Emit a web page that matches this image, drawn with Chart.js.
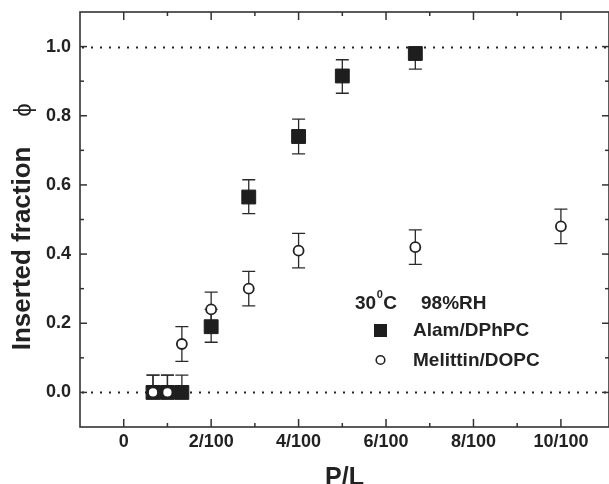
<!DOCTYPE html>
<html><head><meta charset="utf-8">
<script src="https://cdn.jsdelivr.net/npm/chart.js@4.4.0/dist/chart.umd.min.js"></script>
<style>html,body{margin:0;padding:0;background:#fff;overflow:hidden}</style>
</head><body>
<canvas id="c" width="609" height="484"></canvas>
<script>
// ---- data ----
const alamX = [0.0067, 0.0100, 0.0133, 0.0200, 0.0286, 0.0400, 0.0500, 0.0667];
const alamY = [0.00, 0.00, 0.00, 0.19, 0.565, 0.74, 0.915, 0.98];
const alamErrUp = [0.05, 0.05, 0.05, 0.05, 0.05, 0.05, 0.047, 0.0];
const alamErrDown = [0.0, 0.0, 0.0, 0.045, 0.048, 0.05, 0.05, 0.045];

const melX = [0.0067, 0.0100, 0.0133, 0.0200, 0.0286, 0.0400, 0.0667, 0.1000];
const melY = [0.00, 0.00, 0.14, 0.24, 0.30, 0.41, 0.42, 0.48];
const melErrUp = [0.05, 0.05, 0.05, 0.05, 0.05, 0.05, 0.05, 0.05];
const melErrDown = [0.0, 0.0, 0.05, 0.05, 0.05, 0.05, 0.05, 0.05];

const xTickValues = [0, 0.02, 0.04, 0.06, 0.08, 0.10];
const xTickLabels = ['0', '2/100', '4/100', '6/100', '8/100', '10/100'];
const xMinorValues = [0.01, 0.03, 0.05, 0.07, 0.09];
const yTickValues = [0, 0.2, 0.4, 0.6, 0.8, 1.0];
const yTickLabels = ['0.0', '0.2', '0.4', '0.6', '0.8', '1.0'];
const yMinorValues = [0.1, 0.3, 0.5, 0.7, 0.9];
const refLines = [0, 1.0];

const seriesNames = ['Alam/DPhPC', 'Melittin/DOPC'];
const legendHeader = ['30', '0', 'C', '98%RH'];
const yTitleText = 'Inserted fraction';
const yTitleSymbol = '\u03D5';

const INK = '#222222';
const FONT = "'Liberation Sans', Arial, Helvetica, sans-serif";

const refLinePlugin = {
  id: 'refLines',
  beforeDatasetsDraw(chart) {
    const {ctx, chartArea: a, scales: {y}} = chart;
    ctx.save();
    ctx.strokeStyle = '#222';
    ctx.lineWidth = 2;
    ctx.setLineDash([2, 7]);
    refLines.forEach(v => {
      const py = Math.round(y.getPixelForValue(v)) + 0.5;
      ctx.beginPath(); ctx.moveTo(a.left + 2, py); ctx.lineTo(a.right, py); ctx.stroke();
    });
    ctx.restore();
  }
};

const errorBarPlugin = {
  id: 'errorBars',
  beforeDatasetsDraw(chart) {
    const {ctx, scales: {x, y}} = chart;
    ctx.save();
    ctx.strokeStyle = '#2a2a2a';
    ctx.lineWidth = 1.3;
    const series = [[alamX, alamY, alamErrUp, alamErrDown], [melX, melY, melErrUp, melErrDown]];
    series.forEach(([xs, ys, up, dn]) => {
      xs.forEach((xv, i) => {
        const px = x.getPixelForValue(xv);
        const yT = y.getPixelForValue(ys[i] + up[i]);
        const yB = y.getPixelForValue(ys[i] - dn[i]);
        ctx.beginPath();
        ctx.moveTo(px, yT); ctx.lineTo(px, yB);
        if (up[i] > 0) { ctx.moveTo(px - 6.5, yT); ctx.lineTo(px + 6.5, yT); }
        if (dn[i] > 0) { ctx.moveTo(px - 6.5, yB); ctx.lineTo(px + 6.5, yB); }
        ctx.stroke();
      });
    });
    ctx.restore();
  }
};

const framePlugin = {
  id: 'frame',
  afterDraw(chart) {
    const {ctx, chartArea: a, scales: {x, y}} = chart;
    ctx.save();
    ctx.strokeStyle = '#333';
    ctx.lineWidth = 1.6;
    ctx.strokeRect(a.left, a.top, a.right - a.left, a.bottom - a.top);
    ctx.lineWidth = 1.5;
    const tick = (x1, y1, x2, y2) => { ctx.beginPath(); ctx.moveTo(x1, y1); ctx.lineTo(x2, y2); ctx.stroke(); };
    xTickValues.forEach(v => { const p = x.getPixelForValue(v); tick(p, a.bottom, p, a.bottom - 8); tick(p, a.top, p, a.top + 8); });
    xMinorValues.forEach(v => { const p = x.getPixelForValue(v); tick(p, a.bottom, p, a.bottom - 4); tick(p, a.top, p, a.top + 4); });
    yTickValues.forEach(v => { const p = y.getPixelForValue(v); tick(a.left, p, a.left + 7, p); tick(a.right, p, a.right - 7, p); });
    yMinorValues.forEach(v => { const p = y.getPixelForValue(v); tick(a.left, p, a.left + 4, p); tick(a.right, p, a.right - 4, p); });
    ctx.restore();

    // phi symbol of the y title (regular weight)
    ctx.save();
    ctx.translate(24, 110);
    ctx.rotate(-Math.PI / 2);
    ctx.fillStyle = INK;
    ctx.font = '24px ' + FONT;
    ctx.textAlign = 'center';
    ctx.textBaseline = 'middle';
    ctx.fillText(yTitleSymbol, 0, 0);
    ctx.restore();

    // legend inside plot
    ctx.save();
    ctx.fillStyle = INK;
    ctx.textBaseline = 'alphabetic';
    ctx.font = 'bold 19px ' + FONT;
    let tx = 355, by = 309;
    ctx.fillText(legendHeader[0], tx, by);
    tx += ctx.measureText(legendHeader[0]).width + 0.5;
    ctx.font = 'bold 11px ' + FONT;
    ctx.fillText(legendHeader[1], tx, by - 11);
    tx += ctx.measureText(legendHeader[1]).width + 0.5;
    ctx.font = 'bold 19px ' + FONT;
    ctx.fillText(legendHeader[2], tx, by);
    ctx.fillText(legendHeader[3], 421, by);

    ctx.textBaseline = 'middle';
    ctx.fillStyle = '#1e1e1e';
    ctx.fillRect(374, 324, 13, 13);
    ctx.beginPath();
    ctx.arc(380.5, 360, 4.3, 0, Math.PI * 2);
    ctx.fillStyle = '#fff'; ctx.fill();
    ctx.lineWidth = 1.6; ctx.strokeStyle = INK; ctx.stroke();
    ctx.fillStyle = INK;
    ctx.font = 'bold 19px ' + FONT;
    ctx.fillText(seriesNames[0], 413, 331);
    ctx.fillText(seriesNames[1], 413, 361);
    ctx.restore();
  }
};

new Chart(document.getElementById('c'), {
  type: 'scatter',
  data: {
    datasets: [
      {
        label: seriesNames[1],
        data: melX.map((v, i) => ({x: v, y: melY[i]})),
        pointStyle: 'circle',
        pointRadius: 5,
        pointBorderWidth: 1.8,
        pointBackgroundColor: '#ffffff',
        pointBorderColor: INK,
        showLine: false
      },
      {
        label: seriesNames[0],
        data: alamX.map((v, i) => ({x: v, y: alamY[i]})),
        pointStyle: 'rect',
        pointRadius: 9.8,
        pointBorderWidth: 1,
        pointBackgroundColor: '#1e1e1e',
        pointBorderColor: '#1e1e1e',
        showLine: false
      }
    ]
  },
  options: {
    responsive: false,
    animation: false,
    devicePixelRatio: 1,
    layout: {autoPadding: false, padding: {top: 12, right: 0, left: 0, bottom: 0}},
    plugins: {legend: {display: false}, tooltip: {enabled: false}},
    scales: {
      x: {
        type: 'linear',
        min: -0.01,
        max: 0.111,
        grid: {display: false, drawTicks: false},
        border: {display: false},
        afterBuildTicks: s => { s.ticks = xTickValues.map(v => ({value: v})); },
        afterFit: s => { s.height = 57; s.paddingLeft = 0; s.paddingRight = 0; },
        ticks: {
          autoSkip: false, maxRotation: 0, padding: 4, color: INK,
          font: {family: FONT, size: 18, weight: 'bold'},
          callback: v => xTickLabels[xTickValues.indexOf(v)]
        },
        title: {
          display: true, text: 'P/L', color: INK,
          font: {family: FONT, size: 25, weight: 'bold', lineHeight: 1.0},
          padding: {top: 0, bottom: -7}
        }
      },
      y: {
        type: 'linear',
        min: -0.1,
        max: 1.1,
        grid: {display: false, drawTicks: false},
        border: {display: false},
        afterBuildTicks: s => { s.ticks = yTickValues.map(v => ({value: v})); },
        afterFit: s => { s.width = 80; s.paddingTop = 0; s.paddingBottom = 0; },
        ticks: {
          autoSkip: false, padding: 9, color: INK,
          font: {family: FONT, size: 18, weight: 'bold'},
          callback: v => yTickLabels[yTickValues.indexOf(v)]
        },
        title: {
          display: true, text: yTitleText + '        ', color: INK,
          font: {family: FONT, size: 26, weight: 'bold', lineHeight: 1.2},
          padding: {top: 7, bottom: 0}
        }
      }
    }
  },
  plugins: [refLinePlugin, errorBarPlugin, framePlugin]
});
</script>
</body></html>
